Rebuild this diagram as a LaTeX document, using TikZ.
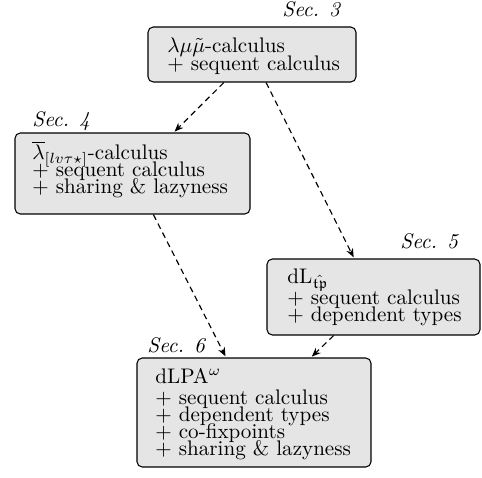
\documentclass[tikz,border=0pt]{standalone}
\usepackage{amssymb}
\usetikzlibrary{calc,arrows.meta}
\newcommand\boxlines[1]{\vtop{\baselineskip=8pt\lineskiplimit=-100pt\lineskip=0pt\halign{##\hfil\cr #1\crcr}}}
\begin{document}
\begin{tikzpicture}[x=0.474pt,y=-0.474pt,
  box/.style={draw=black,line width=0.5pt,fill=gray!20,rounded corners=2.5pt,inner sep=0pt},
  txt/.style={inner sep=0pt,font=\fontsize{10pt}{8pt}\selectfont,anchor=base west},
  sec/.style={inner sep=0pt,font=\fontsize{10pt}{12pt}\selectfont\itshape,anchor=base west},
  conn/.style={line width=0.55pt,dash pattern=on 2.8pt off 2pt,-{Stealth[length=4.2pt,width=3.4pt]},shorten >=0.6pt}]
\useasboundingbox (0,0) rectangle (482,477);
% boxes
\node[box,minimum width=98.59pt,minimum height=26.07pt] (b1) at (252,54.5) {};
\node[box,minimum width=111.39pt,minimum height=38.39pt] (b2) at (132.5,173.5) {};
\node[box,minimum width=100.96pt,minimum height=36.02pt] (b3) at (373.5,297) {};
\node[box,minimum width=110.92pt,minimum height=51.67pt] (b4) at (254,412.5) {};
% texts
\node[txt] (t1) at (167,53) {\boxlines{$\lambda\mu\tilde\mu$-calculus\cr\noalign{\vskip0.5pt}+ sequent calculus}};
\node[txt] (t2) at (32,160) {\boxlines{$\overline{\lambda}_{[lv\tau\star]}$-calculus\cr+ sequent calculus\cr+ sharing \& lazyness}};
\node[txt] (t3) at (287,283) {\boxlines{dL$_{\hat{\mathfrak{tp}}}$\cr\noalign{\vskip2.4pt}+ sequent calculus\cr+ dependent types}};
\node[txt] (t4) at (155,383) {\boxlines{dLPA$^\omega$\cr\noalign{\vskip2.4pt}+ sequent calculus\cr+ dependent types\cr+ co-fixpoints\cr+ sharing \& lazyness}};
% section labels
\node[sec] (s3) at (282,17) {Sec. 3};
\node[sec] (s4) at (32,127) {Sec. 4};
\node[sec] (s5) at (400,248) {Sec. 5};
\node[sec] (s6) at (147,352) {Sec. 6};
% connectors (centre to centre, clipped at the borders)
\draw[conn] (b1) -- (b2);
\draw[conn] (b1) -- (b3);
\draw[conn] (b2) -- (b4);
\draw[conn] (b3) -- (b4);
\end{tikzpicture}
\end{document}
